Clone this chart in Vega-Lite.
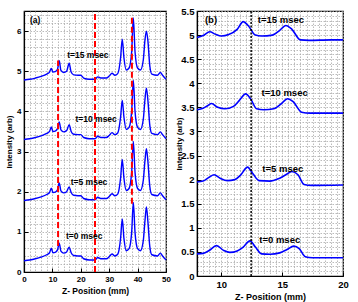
{
"$schema":"https://vega.github.io/schema/vega-lite/v6.json",
"padding":{"left":4,"top":5,"right":0,"bottom":0},
"spacing":3,
"config":{"view":{"stroke":"black","strokeWidth":1.2},"axis":{"domainColor":"black","domainWidth":1.2,"tickColor":"black","labelFont":"Liberation Sans","labelFontWeight":"bold","labelColor":"black","titleFont":"Liberation Sans","titleFontWeight":"bold","titleColor":"black","gridColor":"#aaa","gridDash":[1.5,1.5],"gridWidth":0.8,"labelOverlap":false,"labelFlush":false,"tickSize":-4,"labelPadding":7},"text":{"font":"Liberation Sans","fontWeight":"bold"}},
"datasets":{
"a_lines":[
{"t":"0","x":0,"y":0.28},{"t":"0","x":2,"y":0.30},{"t":"0","x":4,"y":0.33},{"t":"0","x":6,"y":0.37},{"t":"0","x":8,"y":0.43},{"t":"0","x":9,"y":0.48},{"t":"0","x":9.6,"y":0.59},{"t":"0","x":10.2,"y":0.48},{"t":"0","x":11,"y":0.49},{"t":"0","x":11.8,"y":0.55},{"t":"0","x":12.4,"y":0.72},{"t":"0","x":13,"y":0.52},{"t":"0","x":14,"y":0.47},{"t":"0","x":15,"y":0.50},{"t":"0","x":15.9,"y":0.62},{"t":"0","x":16.6,"y":0.48},{"t":"0","x":17.5,"y":0.41},{"t":"0","x":19,"y":0.40},{"t":"0","x":20,"y":0.40},{"t":"0","x":21,"y":0.33},{"t":"0","x":23,"y":0.30},{"t":"0","x":25,"y":0.30},{"t":"0","x":26,"y":0.36},{"t":"0","x":27,"y":0.33},{"t":"0","x":29,"y":0.33},{"t":"0","x":30,"y":0.38},{"t":"0","x":31,"y":0.45},{"t":"0","x":32,"y":0.40},{"t":"0","x":33,"y":0.44},{"t":"0","x":34,"y":0.83},{"t":"0","x":34.6,"y":1.32},{"t":"0","x":35.2,"y":0.83},{"t":"0","x":36,"y":0.53},{"t":"0","x":37,"y":0.58},{"t":"0","x":37.9,"y":0.98},{"t":"0","x":38.5,"y":1.73},{"t":"0","x":39.1,"y":0.98},{"t":"0","x":40,"y":0.58},{"t":"0","x":41,"y":0.53},{"t":"0","x":42,"y":0.78},{"t":"0","x":42.6,"y":1.28},{"t":"0","x":43.1,"y":1.62},{"t":"0","x":43.6,"y":1.28},{"t":"0","x":44.3,"y":0.63},{"t":"0","x":45,"y":0.43},{"t":"0","x":47,"y":0.40},{"t":"0","x":48,"y":0.47},{"t":"0","x":48.8,"y":0.40},{"t":"0","x":50,"y":0.30},
{"t":"5","x":0,"y":1.78},{"t":"5","x":2,"y":1.80},{"t":"5","x":4,"y":1.83},{"t":"5","x":6,"y":1.87},{"t":"5","x":8,"y":1.93},{"t":"5","x":9,"y":1.98},{"t":"5","x":9.6,"y":2.09},{"t":"5","x":10.2,"y":1.98},{"t":"5","x":11,"y":1.99},{"t":"5","x":11.8,"y":2.05},{"t":"5","x":12.4,"y":2.22},{"t":"5","x":13,"y":2.02},{"t":"5","x":14,"y":1.97},{"t":"5","x":15,"y":2.00},{"t":"5","x":15.9,"y":2.12},{"t":"5","x":16.6,"y":1.98},{"t":"5","x":17.5,"y":1.91},{"t":"5","x":19,"y":1.90},{"t":"5","x":20,"y":1.90},{"t":"5","x":21,"y":1.83},{"t":"5","x":23,"y":1.80},{"t":"5","x":25,"y":1.80},{"t":"5","x":26,"y":1.86},{"t":"5","x":27,"y":1.83},{"t":"5","x":29,"y":1.83},{"t":"5","x":30,"y":1.88},{"t":"5","x":31,"y":1.95},{"t":"5","x":32,"y":1.90},{"t":"5","x":33,"y":1.94},{"t":"5","x":34,"y":2.33},{"t":"5","x":34.6,"y":2.80},{"t":"5","x":35.2,"y":2.33},{"t":"5","x":36,"y":2.03},{"t":"5","x":37,"y":2.08},{"t":"5","x":37.9,"y":2.48},{"t":"5","x":38.5,"y":3.25},{"t":"5","x":39.1,"y":2.48},{"t":"5","x":40,"y":2.08},{"t":"5","x":41,"y":2.03},{"t":"5","x":42,"y":2.28},{"t":"5","x":42.6,"y":2.78},{"t":"5","x":43.1,"y":3.07},{"t":"5","x":43.6,"y":2.78},{"t":"5","x":44.3,"y":2.13},{"t":"5","x":45,"y":1.93},{"t":"5","x":47,"y":1.90},{"t":"5","x":48,"y":1.97},{"t":"5","x":48.8,"y":1.90},{"t":"5","x":50,"y":1.80},
{"t":"10","x":0,"y":3.30},{"t":"10","x":2,"y":3.32},{"t":"10","x":4,"y":3.35},{"t":"10","x":6,"y":3.39},{"t":"10","x":8,"y":3.45},{"t":"10","x":9,"y":3.50},{"t":"10","x":9.6,"y":3.61},{"t":"10","x":10.2,"y":3.50},{"t":"10","x":11,"y":3.51},{"t":"10","x":11.8,"y":3.57},{"t":"10","x":12.4,"y":3.74},{"t":"10","x":13,"y":3.54},{"t":"10","x":14,"y":3.49},{"t":"10","x":15,"y":3.52},{"t":"10","x":15.9,"y":3.67},{"t":"10","x":16.6,"y":3.50},{"t":"10","x":17.5,"y":3.43},{"t":"10","x":19,"y":3.42},{"t":"10","x":20,"y":3.42},{"t":"10","x":21,"y":3.35},{"t":"10","x":23,"y":3.32},{"t":"10","x":25,"y":3.32},{"t":"10","x":26,"y":3.38},{"t":"10","x":27,"y":3.35},{"t":"10","x":29,"y":3.35},{"t":"10","x":30,"y":3.40},{"t":"10","x":31,"y":3.47},{"t":"10","x":32,"y":3.42},{"t":"10","x":33,"y":3.46},{"t":"10","x":34,"y":3.85},{"t":"10","x":34.6,"y":4.27},{"t":"10","x":35.2,"y":3.85},{"t":"10","x":36,"y":3.55},{"t":"10","x":37,"y":3.60},{"t":"10","x":37.9,"y":4.00},{"t":"10","x":38.5,"y":4.77},{"t":"10","x":39.1,"y":4.00},{"t":"10","x":40,"y":3.60},{"t":"10","x":41,"y":3.55},{"t":"10","x":42,"y":3.80},{"t":"10","x":42.6,"y":4.30},{"t":"10","x":43.1,"y":4.58},{"t":"10","x":43.6,"y":4.30},{"t":"10","x":44.3,"y":3.65},{"t":"10","x":45,"y":3.45},{"t":"10","x":47,"y":3.42},{"t":"10","x":48,"y":3.49},{"t":"10","x":48.8,"y":3.42},{"t":"10","x":50,"y":3.32},
{"t":"15","x":0,"y":4.78},{"t":"15","x":2,"y":4.80},{"t":"15","x":4,"y":4.83},{"t":"15","x":6,"y":4.87},{"t":"15","x":8,"y":4.93},{"t":"15","x":9,"y":4.98},{"t":"15","x":9.6,"y":5.07},{"t":"15","x":10.2,"y":4.98},{"t":"15","x":11,"y":4.99},{"t":"15","x":11.8,"y":5.05},{"t":"15","x":12.4,"y":5.26},{"t":"15","x":13,"y":5.02},{"t":"15","x":14,"y":4.97},{"t":"15","x":15,"y":5.00},{"t":"15","x":15.9,"y":5.20},{"t":"15","x":16.6,"y":4.98},{"t":"15","x":17.5,"y":4.91},{"t":"15","x":19,"y":4.90},{"t":"15","x":20,"y":4.90},{"t":"15","x":21,"y":4.83},{"t":"15","x":23,"y":4.80},{"t":"15","x":25,"y":4.80},{"t":"15","x":26,"y":4.86},{"t":"15","x":27,"y":4.83},{"t":"15","x":29,"y":4.83},{"t":"15","x":30,"y":4.88},{"t":"15","x":31,"y":4.95},{"t":"15","x":32,"y":4.90},{"t":"15","x":33,"y":4.94},{"t":"15","x":34,"y":5.33},{"t":"15","x":34.6,"y":5.80},{"t":"15","x":35.2,"y":5.33},{"t":"15","x":36,"y":5.03},{"t":"15","x":37,"y":5.08},{"t":"15","x":37.9,"y":5.48},{"t":"15","x":38.5,"y":6.33},{"t":"15","x":39.1,"y":5.48},{"t":"15","x":40,"y":5.08},{"t":"15","x":41,"y":5.03},{"t":"15","x":42,"y":5.28},{"t":"15","x":42.6,"y":5.78},{"t":"15","x":43.1,"y":6.00},{"t":"15","x":43.6,"y":5.78},{"t":"15","x":44.3,"y":5.13},{"t":"15","x":45,"y":4.93},{"t":"15","x":47,"y":4.90},{"t":"15","x":48,"y":4.97},{"t":"15","x":48.8,"y":4.90},{"t":"15","x":50,"y":4.80}
],
"a_rules":[{"x":12,"y":0.65,"y2":5.27},{"x":25,"y":0,"y2":6.5},{"x":38,"y":1.7,"y2":6.33}],
"a_labels":[{"x":3.9,"y":6.27,"label":"(a)"},{"x":22.5,"y":5.4,"label":"t=15 msec"},{"x":25.4,"y":3.8,"label":"t=10 msec"},{"x":22.9,"y":2.25,"label":"t=5 msec"},{"x":21.2,"y":0.9,"label":"t=0 msec"}],
"b_lines":[
{"t":"0","x":8,"y":0.46},{"t":"0","x":8.5,"y":0.47},{"t":"0","x":9,"y":0.53},{"t":"0","x":9.6,"y":0.63},{"t":"0","x":10.2,"y":0.53},{"t":"0","x":10.7,"y":0.49},{"t":"0","x":11.3,"y":0.52},{"t":"0","x":11.8,"y":0.6},{"t":"0","x":12.35,"y":0.73},{"t":"0","x":12.8,"y":0.6},{"t":"0","x":13.3,"y":0.46},{"t":"0","x":14,"y":0.45},{"t":"0","x":14.8,"y":0.48},{"t":"0","x":15.4,"y":0.55},{"t":"0","x":15.95,"y":0.62},{"t":"0","x":16.4,"y":0.57},{"t":"0","x":16.9,"y":0.4},{"t":"0","x":17.5,"y":0.38},{"t":"0","x":20,"y":0.38},
{"t":"5","x":8,"y":1.95},{"t":"5","x":8.5,"y":1.97},{"t":"5","x":9,"y":2.05},{"t":"5","x":9.4,"y":2.1},{"t":"5","x":9.9,"y":2.03},{"t":"5","x":10.5,"y":1.98},{"t":"5","x":11.1,"y":2.0},{"t":"5","x":11.6,"y":2.1},{"t":"5","x":12.15,"y":2.26},{"t":"5","x":12.6,"y":2.12},{"t":"5","x":13.1,"y":1.98},{"t":"5","x":14,"y":1.97},{"t":"5","x":14.7,"y":2.02},{"t":"5","x":15.3,"y":2.1},{"t":"5","x":15.8,"y":2.17},{"t":"5","x":16.3,"y":2.1},{"t":"5","x":16.8,"y":1.9},{"t":"5","x":17.4,"y":1.88},{"t":"5","x":20,"y":1.89},
{"t":"10","x":8,"y":3.45},{"t":"10","x":8.5,"y":3.48},{"t":"10","x":8.9,"y":3.54},{"t":"10","x":9.2,"y":3.58},{"t":"10","x":9.7,"y":3.5},{"t":"10","x":10.3,"y":3.47},{"t":"10","x":11,"y":3.52},{"t":"10","x":11.5,"y":3.65},{"t":"10","x":12.0,"y":3.78},{"t":"10","x":12.4,"y":3.68},{"t":"10","x":12.9,"y":3.47},{"t":"10","x":13.5,"y":3.45},{"t":"10","x":14.3,"y":3.47},{"t":"10","x":14.9,"y":3.57},{"t":"10","x":15.45,"y":3.68},{"t":"10","x":15.9,"y":3.62},{"t":"10","x":16.6,"y":3.4},{"t":"10","x":17.3,"y":3.38},{"t":"10","x":20,"y":3.38},
{"t":"15","x":8,"y":4.95},{"t":"15","x":8.5,"y":4.99},{"t":"15","x":9.05,"y":5.07},{"t":"15","x":9.5,"y":5.02},{"t":"15","x":10,"y":4.98},{"t":"15","x":10.6,"y":5.01},{"t":"15","x":11.3,"y":5.12},{"t":"15","x":11.8,"y":5.28},{"t":"15","x":12.2,"y":5.2},{"t":"15","x":12.8,"y":5.0},{"t":"15","x":13.3,"y":4.98},{"t":"15","x":14.2,"y":5.0},{"t":"15","x":14.8,"y":5.1},{"t":"15","x":15.3,"y":5.2},{"t":"15","x":15.8,"y":5.12},{"t":"15","x":16.5,"y":4.9},{"t":"15","x":17.2,"y":4.89},{"t":"15","x":19,"y":4.9},{"t":"15","x":20,"y":4.9}
],
"b_rules":[{"x":12.45,"y":0,"y2":5.5}],
"b_labels":[{"x":9.15,"y":5.31,"label":"(b)"},{"x":14.9,"y":5.32,"label":"t=15 msec"},{"x":15.2,"y":3.79,"label":"t=10 msec"},{"x":15.05,"y":2.23,"label":"t=5 msec"},{"x":14.8,"y":0.75,"label":"t=0 msec"}]
},
"hconcat":[
{"width":142,"height":261,
"encoding":{
"x":{"field":"x","type":"quantitative","scale":{"domain":[0,50],"nice":false,"zero":false},
"axis":{"title":"Z- Position (mm)","titleFontSize":8.5,"labelFontSize":8,"titlePadding":3,"grid":true,"values":[0,2,4,6,8,10,12,14,16,18,20,22,24,26,28,30,32,34,36,38,40,42,44,46,48,50],"format":"~g","labelExpr":"datum.value % 10 === 0 ? datum.label : ''","tickOpacity":{"condition":{"test":"datum.value % 10 === 0","value":1},"value":0}}},
"y":{"field":"y","type":"quantitative","scale":{"domain":[0,6.5],"nice":false,"zero":false},
"axis":{"title":"Intensity (arb)","titleFontSize":8,"labelFontSize":8,"titlePadding":3,"grid":true,"values":[0,0.2,0.4,0.6,0.8,1,1.2,1.4,1.6,1.8,2,2.2,2.4,2.6,2.8,3,3.2,3.4,3.6,3.8,4,4.2,4.4,4.6,4.8,5,5.2,5.4,5.6,5.8,6,6.2,6.4],"format":"~g","labelExpr":"abs(datum.value - round(datum.value)) < 0.001 ? datum.label : ''","tickOpacity":{"condition":{"test":"abs(datum.value - round(datum.value)) < 0.001","value":1},"value":0}}}
},
"layer":[
{"data":{"name":"a_lines"},"mark":{"type":"line","color":"#0000ff","strokeWidth":1.4,"interpolate":"monotone"},"encoding":{"detail":{"field":"t"}}},
{"data":{"name":"a_rules"},"mark":{"type":"rule","color":"#ff0000","strokeWidth":2,"strokeDash":[6,3]},"encoding":{"y2":{"field":"y2"}}},
{"data":{"name":"a_labels"},"mark":{"type":"text","fontSize":8.5,"color":"black"},"encoding":{"text":{"field":"label"}}}
]},
{"width":146,"height":265,
"encoding":{
"x":{"field":"x","type":"quantitative","scale":{"domain":[8,20],"nice":false,"zero":false},
"axis":{"title":"Z- Position (mm)","titleFontSize":9,"labelFontSize":9.5,"titlePadding":4,"grid":true,"values":[8,8.5,9,9.5,10,10.5,11,11.5,12,12.5,13,13.5,14,14.5,15,15.5,16,16.5,17,17.5,18,18.5,19,19.5,20],"format":"~g","labelExpr":"datum.value % 5 === 0 ? datum.label : ''","tickOpacity":{"condition":{"test":"datum.value % 5 === 0","value":1},"value":0}}},
"y":{"field":"y","type":"quantitative","scale":{"domain":[0,5.5],"nice":false,"zero":false},
"axis":{"title":"Intensity (arb)","titleFontSize":8,"labelFontSize":9.5,"titlePadding":-3,"grid":true,"values":[0,0.1,0.2,0.3,0.4,0.5,0.6,0.7,0.8,0.9,1,1.1,1.2,1.3,1.4,1.5,1.6,1.7,1.8,1.9,2,2.1,2.2,2.3,2.4,2.5,2.6,2.7,2.8,2.9,3,3.1,3.2,3.3,3.4,3.5,3.6,3.7,3.8,3.9,4,4.1,4.2,4.3,4.4,4.5,4.6,4.7,4.8,4.9,5,5.1,5.2,5.3,5.4,5.5],"format":"~g","labelExpr":"abs(datum.value*2 - round(datum.value*2)) < 0.001 ? datum.label : ''","tickOpacity":{"condition":{"test":"abs(datum.value*2 - round(datum.value*2)) < 0.001","value":1},"value":0}}}
},
"layer":[
{"data":{"name":"b_lines"},"mark":{"type":"line","color":"#0000ff","strokeWidth":1.6,"interpolate":"monotone"},"encoding":{"detail":{"field":"t"}}},
{"data":{"name":"b_rules"},"mark":{"type":"rule","color":"black","strokeWidth":1.5,"strokeDash":[2,1.5]},"encoding":{"y2":{"field":"y2"}}},
{"data":{"name":"b_labels"},"mark":{"type":"text","fontSize":9.5,"color":"black"},"encoding":{"text":{"field":"label"}}}
]}
]
}
